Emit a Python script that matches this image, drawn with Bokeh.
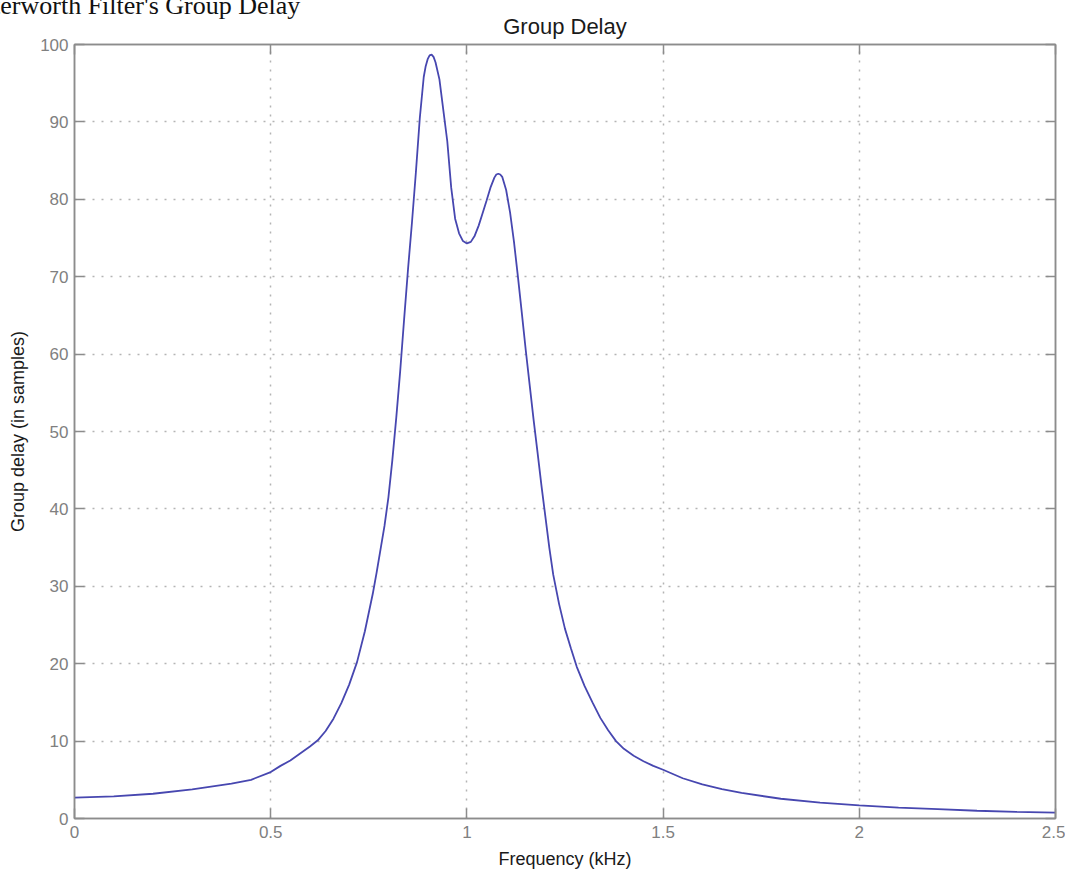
from bokeh.plotting import figure
from bokeh.models import Range1d, FixedTicker, LinearAxis
from bokeh.embed import file_html
from bokeh.resources import INLINE

# ---- data ----
freq_khz = [0, 0.1, 0.2, 0.3, 0.4, 0.45, 0.5, 0.525, 0.55, 0.575, 0.6, 0.62, 0.64, 0.66,
            0.68, 0.7, 0.72, 0.74, 0.76, 0.77, 0.78, 0.79, 0.80, 0.81, 0.82, 0.83,
            0.84, 0.85, 0.86, 0.87, 0.88, 0.89, 0.895, 0.90, 0.905, 0.91, 0.915,
            0.92, 0.93, 0.94, 0.95, 0.96, 0.97, 0.98, 0.99, 1.00, 1.01, 1.02, 1.03,
            1.04, 1.05, 1.06, 1.07, 1.075, 1.08, 1.085, 1.09, 1.10, 1.11, 1.12, 1.13,
            1.14, 1.15, 1.16, 1.17, 1.18, 1.19, 1.20, 1.21, 1.22, 1.235, 1.25, 1.265,
            1.28, 1.30, 1.32, 1.34, 1.36, 1.38, 1.40, 1.425, 1.45, 1.475, 1.5, 1.55,
            1.6, 1.65, 1.7, 1.8, 1.9, 2.0, 2.1, 2.2, 2.3, 2.4, 2.5]
group_delay = [2.7, 2.85, 3.2, 3.75, 4.5, 5.0, 6.0, 6.8, 7.5, 8.4, 9.3, 10.1, 11.3, 12.9,
               14.9, 17.3, 20.2, 24.2, 29.0, 31.8, 34.8, 37.8, 41.5, 46.3, 51.8, 57.8,
               64.5, 71.0, 77.0, 83.5, 90.5, 95.8, 97.2, 98.1, 98.6, 98.7, 98.4,
               97.7, 95.5, 91.5, 87.5, 81.5, 77.5, 75.6, 74.6, 74.3, 74.5, 75.3, 76.6,
               78.2, 79.8, 81.5, 82.8, 83.2, 83.3, 83.2, 82.9, 81.2, 78.3, 74.5, 70.0,
               65.3, 60.5, 56.0, 51.5, 47.3, 43.0, 39.0, 35.0, 31.5, 27.7, 24.5, 22.0,
               19.6, 17.1, 15.0, 13.0, 11.4, 10.0, 9.0, 8.1, 7.4, 6.8, 6.3, 5.2,
               4.4, 3.8, 3.3, 2.55, 2.05, 1.7, 1.4, 1.2, 1.0, 0.85, 0.75]

x_ticks = [0, 0.5, 1, 1.5, 2, 2.5]
x_tick_labels = ["0", "0.5", "1", "1.5", "2", "2.5"]
y_ticks = [0, 10, 20, 30, 40, 50, 60, 70, 80, 90, 100]
y_tick_labels = [str(v) for v in y_ticks]

title_text = "Group Delay"
page_heading = "Butterworth Filter's Group Delay"
x_label = "Frequency (kHz)"
y_label = "Group delay (in samples)"

FONT = "Liberation Sans"
FRAME = "#8c8c8c"
TICKLBL = "#808080"
W, H = 1065, 871

p = figure(width=W, height=H, output_backend="svg", toolbar_location=None,
           x_range=Range1d(0, 2.5), y_range=Range1d(0, 100),
           min_border_left=74, min_border_right=10, min_border_top=44,
           min_border_bottom=47, background_fill_color="white",
           border_fill_color="white")

# page heading (cut off at the top-left corner in the reference)
p.title.text = page_heading
p.title.align = "left"
p.title.vertical_align = "top"
p.title.offset = -119
p.title.standoff = -22
p.title.text_font = "Liberation Serif"
p.title.text_font_size = "26px"
p.title.text_font_style = "normal"
p.title.text_color = "#111111"

p.outline_line_color = FRAME
p.outline_line_width = 1.5

for ax in (p.xaxis[0], p.yaxis[0]):
    ax.axis_line_color = FRAME
    ax.axis_line_width = 1.5
    ax.major_tick_line_color = FRAME
    ax.major_tick_line_width = 1.5
    ax.major_tick_in = 10
    ax.major_tick_out = 0
    ax.minor_tick_line_color = None
    ax.major_label_text_font = FONT
    ax.major_label_text_font_size = "17px"
    ax.major_label_text_color = TICKLBL
    ax.axis_label_text_font = FONT
    ax.axis_label_text_font_size = "18px"
    ax.axis_label_text_font_style = "normal"
    ax.axis_label_text_color = "#1a1a1a"

p.xaxis[0].ticker = FixedTicker(ticks=x_ticks)
p.xaxis[0].major_label_overrides = {t: l for t, l in zip(x_ticks, x_tick_labels)}
p.xaxis[0].axis_label = x_label
p.xaxis[0].major_label_standoff = 7
p.xaxis[0].axis_label_standoff = 8

p.yaxis[0].ticker = FixedTicker(ticks=y_ticks)
p.yaxis[0].major_label_overrides = {t: l for t, l in zip(y_ticks, y_tick_labels)}
p.yaxis[0].axis_label = y_label
p.yaxis[0].major_label_standoff = 6
p.yaxis[0].axis_label_standoff = 9

# top axis carries the chart title; right axis closes the box
top = LinearAxis(ticker=FixedTicker(ticks=x_ticks), major_label_text_font_size="0px",
                 major_label_text_color=None,
                 axis_line_color=FRAME, axis_line_width=1.5, major_tick_line_color=FRAME,
                 major_tick_line_width=1.5, major_tick_in=10, major_tick_out=0,
                 minor_tick_line_color=None, major_label_standoff=0,
                 axis_label=title_text, axis_label_standoff=6,
                 axis_label_text_font=FONT, axis_label_text_font_size="22px",
                 axis_label_text_font_style="normal", axis_label_text_color="#1a1a1a")
right = LinearAxis(ticker=FixedTicker(ticks=y_ticks), major_label_text_font_size="0px",
                   major_label_text_color=None,
                   axis_line_color=FRAME, axis_line_width=1.5, major_tick_line_color=FRAME,
                   major_tick_line_width=1.5, major_tick_in=10, major_tick_out=0,
                   minor_tick_line_color=None, major_label_standoff=0)
p.add_layout(top, "above")
p.add_layout(right, "right")

p.xgrid.ticker = FixedTicker(ticks=x_ticks)
p.ygrid.ticker = FixedTicker(ticks=y_ticks)
for g in (p.xgrid[0], p.ygrid[0]):
    g.grid_line_color = "#b4b4b4"
    g.grid_line_dash = "2 7"
    g.grid_line_width = 1.5

p.line(freq_khz, group_delay, line_color="#4747b0", line_width=1.8)

open("out.html", "w").write(file_html(p, INLINE))
